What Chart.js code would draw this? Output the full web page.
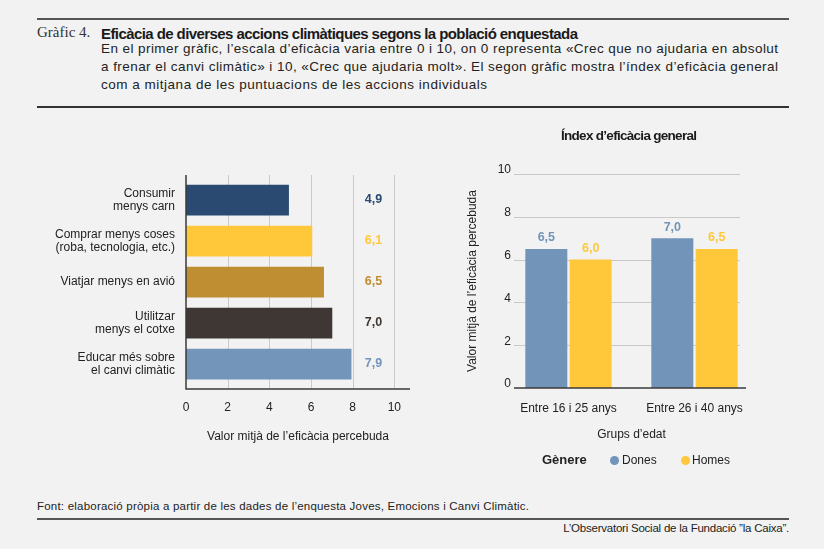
<!DOCTYPE html>
<html><head><meta charset="utf-8">
<script src="https://cdn.jsdelivr.net/npm/chart.js@4.4.1/dist/chart.umd.min.js"></script>
<style>
html,body{margin:0;padding:0;background:#f2f2f2;}
body{width:824px;height:549px;position:relative;overflow:hidden;font-family:"Liberation Sans",Arial,sans-serif;color:#222;}
.abs{position:absolute;white-space:nowrap;line-height:1.15;}
.rule{position:absolute;left:37px;width:752px;height:2px;background:#555;}
.sub{font-size:13.5px;color:#222;}
.foot{font-family:"Liberation Sans",Arial,sans-serif;font-size:11.5px;color:#222;}
#c1{position:absolute;left:0;top:110px;}
#c2{position:absolute;left:440px;top:120px;}
.leg{position:absolute;top:452px;font-size:12px;line-height:16px;color:#222;white-space:nowrap;}
.dot{position:absolute;width:9px;height:9px;border-radius:50%;top:456px;}
</style></head>
<body>
<div class="rule" style="top:18px"></div>
<div class="abs" style="left:37px;top:24px;font-family:'Liberation Serif',serif;font-size:15px;color:#333">Gràfic 4.</div>
<div class="abs fit" data-w="477" style="left:101px;top:25px;font-family:'Liberation Sans Narrow','Liberation Sans',sans-serif;font-weight:bold;font-size:15px;color:#1a1a1a">Eficàcia de diverses accions climàtiques segons la població enquestada</div>
<div class="abs sub fit" data-w="677" style="left:101px;top:40.5px">En el primer gràfic, l’escala d’eficàcia varia entre 0 i 10, on 0 representa «Crec que no ajudaria en absolut</div>
<div class="abs sub fit" data-w="677" style="left:101px;top:58.8px">a frenar el canvi climàtic» i 10, «Crec que ajudaria molt». El segon gràfic mostra l’índex d’eficàcia general</div>
<div class="abs sub fit" data-w="386" style="left:101px;top:76.8px">com a mitjana de les puntuacions de les accions individuals</div>
<div class="rule" style="top:105.7px;background:#333"></div>

<canvas id="c1" width="420" height="350"></canvas>
<canvas id="c2" width="360" height="360"></canvas>

<div class="abs fit" data-w="136" style="left:561px;top:128px;font-family:'Liberation Sans Narrow','Liberation Sans',sans-serif;font-weight:bold;font-size:13.5px;color:#1a1a1a">Índex d’eficàcia general</div>

<div class="leg" style="left:542px;font-weight:bold;font-size:13px">Gènere</div>
<div class="dot" style="left:609.5px;background:#7294b9"></div>
<div class="leg" style="left:622px">Dones</div>
<div class="dot" style="left:680.5px;background:#ffc83a"></div>
<div class="leg" style="left:692px">Homes</div>

<div class="abs foot fit" data-w="492" style="left:37px;top:499.8px">Font: elaboració pròpia a partir de les dades de l’enquesta Joves, Emocions i Canvi Climàtic.</div>
<div class="rule" style="top:517.8px"></div>
<div class="abs foot fit" data-w="226" data-right="789" style="top:522.3px">L’Observatori Social de la Fundació ”la Caixa”.</div>

<script>
// ---- Data: left chart ----
const actions = [
  ['Consumir', 'menys carn'],
  ['Comprar menys coses', '(roba, tecnologia, etc.)'],
  ['Viatjar menys en avió'],
  ['Utilitzar', 'menys el cotxe'],
  ['Educar més sobre', 'el canvi climàtic']
];
const actionValues = [4.94, 6.06, 6.62, 7.02, 7.94];
const actionValueLabels = ['4,9', '6,1', '6,5', '7,0', '7,9'];
const actionTicks = [0, 2, 4, 6, 8, 10];

// ---- Data: right chart ----
const ageGroups = ['Entre 16 i 25 anys', 'Entre 26 i 40 anys'];
const donesValues = [6.5, 7.0];
const homesValues = [6.0, 6.5];
const donesValueLabels = ['6,5', '7,0'];
const homesValueLabels = ['6,0', '6,5'];
const indexTicks = [0, 2, 4, 6, 8, 10];

// ---- Styles ----
const actionColors = ['#2b4a72', '#ffc83a', '#bf8d32', '#3f3733', '#7395ba'];
const DONES = '#7294b9', HOMES = '#ffc83a';
const GRID = '#c9c9c9', AXIS = '#3a3a3a', TXT = '#222';
const F = 'Liberation Sans, Arial, sans-serif';

// fit header/footer text widths
document.querySelectorAll('.fit').forEach(el => {
  const target = +el.dataset.w;
  const n = el.textContent.length;
  const w = el.getBoundingClientRect().width;
  el.style.letterSpacing = ((target - w) / (n - 1)) + 'px';
  if (el.dataset.right) {
    const w2 = el.getBoundingClientRect().width;
    el.style.left = (+el.dataset.right - w2) + 'px';
  }
});

Chart.defaults.font.family = F;
Chart.defaults.color = TXT;

const leftDecor = {
  id: 'leftDecor',
  beforeDatasetsDraw(chart) {
    const {ctx, chartArea: a, scales: {x}} = chart;
    ctx.save();
    ctx.strokeStyle = GRID; ctx.lineWidth = 1;
    actionTicks.forEach(v => {
      if (v === 0) return;
      const px = Math.round(x.getPixelForValue(v)) + 0.5;
      ctx.beginPath(); ctx.moveTo(px, a.top - 4.5); ctx.lineTo(px, a.bottom + 4.5); ctx.stroke();
    });
    ctx.restore();
  },
  afterDatasetsDraw(chart) {
    const {ctx, chartArea: a, scales: {x, y}} = chart;
    ctx.save();
    ctx.strokeStyle = AXIS; ctx.lineWidth = 1.5;
    const x0 = x.getPixelForValue(0);
    ctx.beginPath(); ctx.moveTo(x0, a.top - 4.5); ctx.lineTo(x0, a.bottom + 4.5);
    ctx.lineTo(a.right, a.bottom + 4.5); ctx.stroke();
    ctx.font = 'bold 12.5px ' + F;
    ctx.textAlign = 'center'; ctx.textBaseline = 'middle';
    const lx = x.getPixelForValue(9);
    actionValueLabels.forEach((t, i) => {
      ctx.fillStyle = actionColors[i];
      ctx.fillText(t, lx, y.getPixelForValue(i));
    });
    ctx.restore();
  }
};

new Chart(document.getElementById('c1'), {
  type: 'bar',
  data: {
    labels: actions,
    datasets: [{data: actionValues, backgroundColor: actionColors, borderWidth: 0,
      categoryPercentage: 1, barPercentage: 0.75}]
  },
  options: {
    indexAxis: 'y', responsive: false, animation: false, events: [],
    layout: {padding: {top: 69.5, right: 10, left: 0, bottom: 0}},
    plugins: {legend: {display: false}, tooltip: {enabled: false}},
    scales: {
      x: {
        min: 0, max: 10.75,
        afterBuildTicks: s => { s.ticks = actionTicks.map(v => ({value: v})); },
        afterFit: s => { s.height = 75.5; },
        grid: {display: false, drawTicks: false}, border: {display: false},
        ticks: {padding: 16.3, font: {size: 12}, color: TXT, autoSkip: false, maxRotation: 0},
        title: {display: true, text: 'Valor mitjà de l’eficàcia percebuda', font: {size: 12}, color: TXT,
          padding: {top: 0, bottom: 15.8}}
      },
      y: {
        afterFit: s => { s.width = 186; },
        grid: {display: false, drawTicks: false}, border: {display: false},
        ticks: {padding: 11, font: {size: 12, lineHeight: 1.12}, color: TXT}
      }
    }
  },
  plugins: [leftDecor]
});

const rightDecor = {
  id: 'rightDecor',
  beforeDatasetsDraw(chart) {
    const {ctx, chartArea: a, scales: {y}} = chart;
    ctx.save();
    ctx.strokeStyle = GRID; ctx.lineWidth = 1;
    indexTicks.forEach(v => {
      if (v === 0) return;
      const py = Math.round(y.getPixelForValue(v)) + 0.5;
      ctx.beginPath(); ctx.moveTo(a.left + 8.5, py); ctx.lineTo(a.right - 17.5, py); ctx.stroke();
    });
    // y tick labels (drawn here so they can sit inside the plot's left margin)
    ctx.font = '12px ' + F; ctx.fillStyle = TXT;
    ctx.textAlign = 'right'; ctx.textBaseline = 'middle';
    indexTicks.forEach(v => {
      ctx.fillText(String(v), a.left + 5.5, y.getPixelForValue(v) - 4);
    });
    ctx.restore();
  },
  afterDatasetsDraw(chart) {
    const {ctx, chartArea: a, scales: {y}} = chart;
    ctx.save();
    ctx.strokeStyle = AXIS; ctx.lineWidth = 1.5;
    const y0 = y.getPixelForValue(0);
    ctx.beginPath(); ctx.moveTo(a.left + 8.5, y0); ctx.lineTo(a.right - 11.5, y0); ctx.stroke();
    ctx.font = 'bold 12.5px ' + F;
    ctx.textAlign = 'center'; ctx.textBaseline = 'middle';
    const lbls = [donesValueLabels, homesValueLabels];
    chart.data.datasets.forEach((ds, di) => {
      chart.getDatasetMeta(di).data.forEach((el, i) => {
        ctx.fillStyle = ds.backgroundColor;
        ctx.fillText(lbls[di][i], el.x, el.y - 11);
      });
    });
    ctx.restore();
  }
};

new Chart(document.getElementById('c2'), {
  type: 'bar',
  data: {
    labels: ageGroups,
    datasets: [
      {label: 'Dones', data: donesValues, backgroundColor: DONES, borderWidth: 0, categoryPercentage: 0.704, barPercentage: 0.947},
      {label: 'Homes', data: homesValues, backgroundColor: HOMES, borderWidth: 0, categoryPercentage: 0.704, barPercentage: 0.947}
    ]
  },
  options: {
    responsive: false, animation: false, events: [],
    layout: {padding: {top: 54, right: 42.5, left: 0, bottom: 0}},
    plugins: {legend: {display: false}, tooltip: {enabled: false}, title: {display: false}},
    scales: {
      x: {
        afterFit: s => { s.height = 92; },
        grid: {display: false, drawTicks: false}, border: {display: false},
        ticks: {padding: 13.8, font: {size: 12}, color: TXT, maxRotation: 0},
        title: {display: true, text: 'Grups d’edat', font: {size: 12}, color: TXT, padding: {top: 0, bottom: 37.8}}
      },
      y: {
        min: 0, max: 10,
        afterBuildTicks: s => { s.ticks = indexTicks.map(v => ({value: v})); },
        afterFit: s => { s.width = 65.5; },
        grid: {display: false, drawTicks: false}, border: {display: false},
        ticks: {display: false},
        title: {display: true, text: 'Valor mitjà de l’eficàcia percebuda', font: {size: 12}, color: TXT, padding: {top: 25.8, bottom: 0}}
      }
    }
  },
  plugins: [rightDecor]
});
</script>
</body></html>
